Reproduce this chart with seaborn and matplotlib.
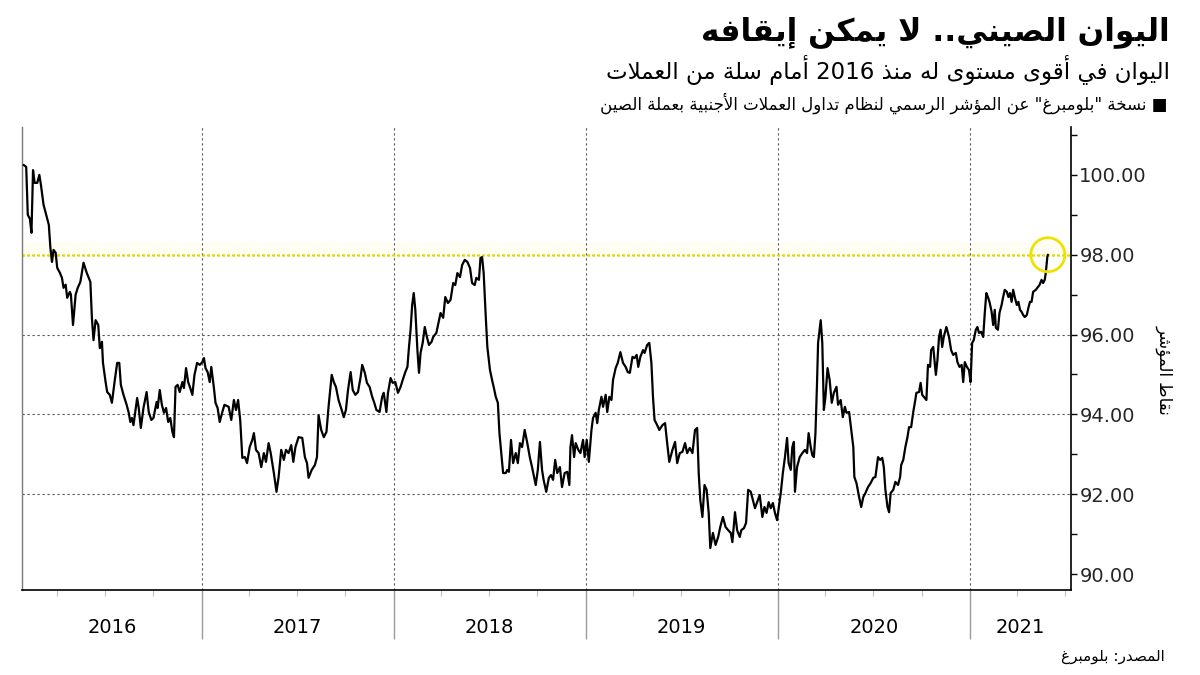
import re
import numpy as np
import pandas as pd
import matplotlib
matplotlib.use("Agg")
import matplotlib.pyplot as plt
import matplotlib.dates as mdates
import matplotlib.transforms as mtransforms
from matplotlib.ticker import FixedLocator, MultipleLocator, FuncFormatter
import seaborn as sns

# ---------------------------------------------------------------- data
title_text = "اليوان الصيني.. لا يمكن إيقافه"
subtitle_text = "اليوان في أقوى مستوى له منذ 2016 أمام سلة من العملات"
legend_text = "■ نسخة \"بلومبرغ\" عن المؤشر الرسمي لنظام تداول العملات الأجنبية بعملة الصين"
ylabel_text = "نقاط المؤشر"
source_text = "المصدر: بلومبرغ"

series_start = "2016-01-01"
# observation dates, as days after series_start
obs_days = [
    27, 32, 35, 39, 42, 45, 48, 53, 57, 60,
    65, 70, 75, 78, 81, 84, 88, 91, 96, 100,
    103, 107, 110, 115, 117, 121, 126, 130, 135, 141,
    147, 151, 154, 157, 160, 164, 169, 172, 176, 178,
    183, 186, 191, 195, 200, 205, 209, 212, 217, 223,
    227, 230, 233, 236, 243, 246, 250, 255, 261, 265,
    270, 274, 280, 282, 286, 290, 294, 298, 302, 306,
    310, 313, 316, 320, 324, 329, 332, 336, 340, 344,
    348, 352, 357, 362, 367, 370, 373, 377, 381, 384,
    389, 392, 396, 400, 405, 409,
    417, 422, 427, 431, 435, 439, 443, 448, 452, 457,
    462, 465, 469, 474, 479, 484, 488, 493, 497, 503,
    508, 512, 517, 522, 526, 531, 536, 540, 544, 550,
    557, 562, 566, 569, 575, 581, 585, 588, 593, 598,
    603, 607, 613, 617, 621, 626, 632, 636, 640, 644,
    649, 653, 658, 663, 668, 671, 676, 680, 685, 690,
    694, 698, 704, 709, 712, 717, 720, 725, 729, 734,
    739, 744, 748, 753, 757, 760, 763, 766, 769, 772,
    776, 779, 782, 786, 790, 794, 798, 803,
    806, 812, 817, 820, 825, 829, 834, 839, 844, 848,
    852, 857, 861, 866, 871, 876, 880, 885, 888, 893,
    896, 899, 902, 906, 909, 914, 918, 921, 925, 929,
    932, 935, 939, 944, 947, 950, 954, 958, 963, 967,
    971, 975, 980, 985, 990, 994, 1001, 1005, 1009, 1013,
    1016, 1021, 1026, 1030, 1034, 1038, 1042, 1047, 1051, 1056,
    1061, 1065, 1067, 1070, 1074, 1077, 1082, 1086, 1091, 1094,
    1098, 1102, 1107, 1110, 1115, 1118, 1121, 1126, 1129, 1134,
    1137, 1141, 1145, 1148, 1153, 1157, 1162, 1167, 1172, 1176,
    1180, 1185, 1189,
    1193, 1196, 1200, 1205, 1208, 1213, 1217, 1221, 1224, 1227,
    1232, 1236, 1242, 1247, 1251, 1255, 1261, 1266, 1270, 1275,
    1280, 1285, 1289, 1294, 1299, 1304, 1308, 1311, 1314, 1318,
    1322, 1326, 1330, 1333, 1338, 1343, 1348, 1352, 1357, 1362,
    1367, 1372, 1375, 1380, 1384, 1389, 1392, 1397, 1401, 1405,
    1410, 1414, 1418, 1422, 1427, 1432, 1436, 1440, 1444, 1448,
    1452, 1456, 1460, 1463, 1467, 1471, 1475, 1479, 1482, 1486,
    1489, 1492, 1494, 1498, 1503, 1508, 1513, 1517, 1520, 1524,
    1527, 1530, 1533, 1536, 1538, 1543, 1546, 1549, 1552, 1556,
    1560, 1564, 1568, 1573, 1576, 1581, 1585, 1589,
    1592, 1597, 1601, 1605, 1607, 1611, 1616, 1620, 1624, 1628,
    1633, 1638, 1643, 1647, 1652, 1656, 1660, 1663, 1666, 1670,
    1673, 1676, 1681, 1685, 1690, 1694, 1696, 1700, 1704, 1708,
    1711, 1715, 1719, 1722, 1725, 1730, 1733, 1736, 1741, 1744,
    1747, 1751, 1753, 1757, 1762, 1765, 1768, 1771, 1774, 1777,
    1782, 1787, 1791, 1795, 1800, 1803, 1807, 1811, 1814, 1817,
    1821, 1825, 1828, 1831, 1834, 1838, 1841, 1844, 1848, 1852,
    1855, 1858, 1861, 1864, 1868, 1871, 1874, 1876, 1880, 1883,
    1887, 1890, 1893, 1897, 1900, 1903, 1906, 1909, 1912, 1916,
    1919, 1922, 1925, 1928, 1931, 1935, 1938, 1941, 1944, 1947,
    1952, 1955, 1959, 1963, 1966, 1969, 1971, 1974, 1975,
]
index_values = [
    100.25, 100.2, 99.0, 98.9, 98.55, 100.12, 99.8, 99.8, 100.0, 99.75,
    99.25, 99.0, 98.75, 98.17, 97.82, 98.12, 98.05, 97.67, 97.55, 97.42,
    97.17, 97.25, 96.92, 97.07, 97.0, 96.24, 97.0, 97.17, 97.32, 97.8,
    97.55, 97.42, 97.32, 96.4, 95.86, 96.36, 96.24, 95.66, 95.82, 95.29,
    94.81, 94.56, 94.49, 94.29, 94.81, 95.29, 95.29, 94.74, 94.49, 94.24,
    94.04, 93.81, 93.91, 93.73, 94.41, 94.16, 93.66, 94.16, 94.56, 94.06,
    93.86, 93.91, 94.31, 94.16, 94.61, 94.24, 94.04, 94.16, 93.81, 93.91,
    93.56, 93.43, 94.69, 94.74, 94.56, 94.81, 94.66, 95.16, 94.81, 94.66,
    94.49, 94.99, 95.29, 95.24, 95.31, 95.41, 95.16, 95.06, 94.81, 95.19,
    94.66, 94.29, 94.16, 93.81, 94.06, 94.24,
    94.19, 93.86, 94.36, 94.11, 94.36, 93.86, 92.91, 92.93, 92.78, 93.18,
    93.36, 93.53, 93.11, 93.03, 92.68, 93.03, 92.81, 93.28, 93.03, 92.53,
    92.06, 92.43, 93.11, 92.86, 93.11, 93.03, 93.23, 92.81, 93.18, 93.43,
    93.41, 92.93, 92.78, 92.41, 92.61, 92.73, 92.93, 93.98, 93.61, 93.43,
    93.56, 94.19, 94.99, 94.81, 94.69, 94.36, 94.11, 93.93, 94.11, 94.61,
    95.06, 94.61, 94.49, 94.56, 94.94, 95.24, 95.04, 94.79, 94.69, 94.44,
    94.29, 94.11, 94.06, 94.44, 94.54, 94.06, 94.54, 94.91, 94.79, 94.81,
    94.54, 94.69, 94.86, 95.06, 95.19, 95.69, 96.12, 96.74, 97.04, 96.62,
    95.61, 95.04, 95.54, 95.79, 96.19, 95.94, 95.74, 95.82,
    95.94, 96.04, 96.36, 96.54, 96.42, 96.94, 96.79, 96.87, 97.29, 97.24,
    97.54, 97.44, 97.74, 97.87, 97.82, 97.67, 97.29, 97.24, 97.42, 97.37,
    97.92, 97.94, 97.54, 96.44, 95.69, 95.11, 94.86, 94.69, 94.44, 94.29,
    93.53, 93.11, 92.53, 92.53, 92.61, 92.56, 93.36, 92.78, 93.03, 92.78,
    93.28, 93.18, 93.61, 93.28, 92.91, 92.68, 92.23, 92.61, 93.31, 92.61,
    92.36, 92.06, 92.41, 92.48, 92.36, 92.86, 92.53, 92.68, 92.18, 92.53,
    92.56, 92.23, 93.18, 93.48, 92.93, 93.28, 93.11, 93.03, 93.36, 92.93,
    93.36, 92.81, 93.61, 93.91, 94.04, 93.78, 94.11, 94.44, 94.19, 94.49,
    94.06, 94.44, 94.36, 94.86, 95.16, 95.29, 95.56, 95.29, 95.19, 95.06,
    95.04, 95.44, 95.41,
    95.49, 95.19, 95.44, 95.61, 95.54, 95.74, 95.79, 95.29, 94.44, 93.86,
    93.73, 93.61, 93.73, 93.78, 93.28, 92.81, 93.11, 93.31, 92.78, 93.03,
    93.06, 93.28, 93.03, 93.16, 93.03, 93.61, 93.66, 92.53, 91.85, 91.43,
    92.23, 92.11, 91.53, 90.65, 91.03, 90.73, 90.93, 91.18, 91.43, 91.18,
    91.1, 91.03, 90.8, 91.55, 91.1, 90.93, 91.1, 91.15, 91.28, 92.11,
    92.06, 91.85, 91.65, 91.8, 91.98, 91.43, 91.68, 91.53, 91.8, 91.65,
    91.78, 91.53, 91.35, 91.65, 92.03, 92.53, 92.93, 93.41, 92.78, 92.61,
    93.18, 93.31, 92.06, 92.68, 92.93, 93.03, 93.11, 93.03, 93.53, 93.18,
    92.98, 92.93, 93.53, 94.79, 95.79, 96.36, 95.79, 94.11, 94.44, 95.16,
    94.86, 94.29, 94.54, 94.69, 94.24, 94.36, 93.93, 94.19,
    94.04, 94.06, 93.61, 93.18, 92.43, 92.28, 91.93, 91.68, 91.93, 92.03,
    92.18, 92.28, 92.41, 92.43, 92.93, 92.86, 92.91, 92.68, 92.11, 91.68,
    91.55, 92.03, 92.11, 92.31, 92.23, 92.43, 92.73, 92.86, 93.18, 93.43,
    93.68, 93.68, 94.06, 94.29, 94.54, 94.56, 94.79, 94.49, 94.41, 94.36,
    95.24, 95.19, 95.61, 95.69, 94.99, 95.36, 95.94, 96.12, 95.69, 95.94,
    96.19, 95.94, 95.61, 95.49, 95.54, 95.31, 95.19, 95.24, 94.81, 95.31,
    95.19, 95.11, 94.81, 95.79, 95.86, 96.12, 96.19, 96.04, 96.07, 95.94,
    96.54, 97.04, 96.94, 96.82, 96.57, 96.24, 96.62, 96.17, 96.12, 96.54,
    96.74, 96.94, 97.12, 97.07, 96.94, 97.04, 96.82, 97.12, 96.94, 96.74,
    96.82, 96.62, 96.57, 96.49, 96.44, 96.49, 96.67, 96.82, 96.82, 97.07,
    97.12, 97.17, 97.24, 97.37, 97.29, 97.37, 97.54, 97.95, 98.0,
]
assert len(obs_days) == len(index_values), (len(obs_days), len(index_values))

x_range = ("2016-01-25", "2021-07-12")
y_range = (89.6, 101.2)
y_ticks = [90, 92, 94, 96, 98, 100]
grid_levels = [92, 94, 96, 98]
highlight_level = 98
year_labels = [2016, 2017, 2018, 2019, 2020, 2021]


# ------------------------------------------------ Arabic shaping helpers
DUAL = {0x0626: 0xFE89, 0x0628: 0xFE8F, 0x062A: 0xFE95, 0x062B: 0xFE99,
        0x062C: 0xFE9D, 0x062D: 0xFEA1, 0x062E: 0xFEA5, 0x0633: 0xFEB1,
        0x0634: 0xFEB5, 0x0635: 0xFEB9, 0x0636: 0xFEBD, 0x0637: 0xFEC1,
        0x0638: 0xFEC5, 0x0639: 0xFEC9, 0x063A: 0xFECD, 0x0641: 0xFED1,
        0x0642: 0xFED5, 0x0643: 0xFED9, 0x0644: 0xFEDD, 0x0645: 0xFEE1,
        0x0646: 0xFEE5, 0x0647: 0xFEE9, 0x064A: 0xFEF1}
RIGHT = {0x0622: 0xFE81, 0x0623: 0xFE83, 0x0624: 0xFE85, 0x0625: 0xFE87,
         0x0627: 0xFE8D, 0x0629: 0xFE93, 0x062F: 0xFEA9, 0x0630: 0xFEAB,
         0x0631: 0xFEAD, 0x0632: 0xFEAF, 0x0648: 0xFEED, 0x0649: 0xFEEF}
LAM_ALEF = {0x0622: 0xFEF5, 0x0623: 0xFEF7, 0x0625: 0xFEF9, 0x0627: 0xFEFB}


def _jtype(tok):
    kind, c = tok
    if kind == "LA":
        return "R"
    o = ord(c)
    if o in DUAL:
        return "D"
    if o in RIGHT:
        return "R"
    return "U"


def shape(text):
    toks = []
    i = 0
    while i < len(text):
        c = text[i]
        if ord(c) == 0x0644 and i + 1 < len(text) and ord(text[i + 1]) in LAM_ALEF:
            toks.append(("LA", text[i + 1]))
            i += 2
        else:
            toks.append(("C", c))
            i += 1
    out = []
    for k, tok in enumerate(toks):
        t = _jtype(tok)
        prev = _jtype(toks[k - 1]) if k > 0 else "U"
        nxt = _jtype(toks[k + 1]) if k + 1 < len(toks) else "U"
        jp = prev == "D" and t in "DR"
        jn = t == "D" and nxt in "DR"
        if tok[0] == "LA":
            out.append(chr(LAM_ALEF[ord(tok[1])] + (1 if jp else 0)))
        elif t == "U":
            out.append(tok[1])
        elif t == "R":
            out.append(chr(RIGHT[ord(tok[1])] + (1 if jp else 0)))
        else:
            idx = {(False, False): 0, (True, False): 1,
                   (False, True): 2, (True, True): 3}[(jp, jn)]
            out.append(chr(DUAL[ord(tok[1])] + idx))
    return "".join(out)


def rtl(text):
    s = shape(text)
    runs = re.findall(r"[0-9A-Za-z]+(?:[.,][0-9]+)*|[^0-9A-Za-z]+", s)
    out = []
    for r in reversed(runs):
        if re.match(r"[0-9A-Za-z]", r):
            out.append(r)
        else:
            out.append(r[::-1])
    return "".join(out)


# ---------------------------------------------------------------- figure
sns.set_theme(style="white")
plt.rcParams["font.family"] = ["DejaVu Sans"]

df = pd.DataFrame({
    "date": pd.Timestamp(series_start) + pd.to_timedelta(obs_days, unit="D"),
    "value": index_values,
})

fig = plt.figure(figsize=(12, 6.75), dpi=100)
ax = fig.add_axes([22 / 1200, 85 / 675, 1049 / 1200, 463 / 675])

x0, x1 = pd.Timestamp(x_range[0]), pd.Timestamp(x_range[1])

# grid
for lvl in grid_levels:
    ax.axhline(lvl, color="#555555", lw=0.8, ls=(0, (2, 2.5)), zorder=1)
for yr in year_labels[1:]:
    ax.axvline(pd.Timestamp(f"{yr}-01-01"), color="#555555", lw=0.8,
               ls=(0, (2, 2.5)), zorder=1)

# highlight level
ax.axhspan(highlight_level, highlight_level + 0.3, color="#fffef2", lw=0, zorder=0)
ax.axhline(highlight_level, color="#e8dc00", lw=1.8, ls=(0, (1, 1)), zorder=2)

sns.lineplot(data=df, x="date", y="value", ax=ax, color="black", lw=1.6,
             zorder=3, legend=False)

last = df.iloc[-1]
ax.scatter([last["date"]], [last["value"]], s=600, facecolors="none",
           edgecolors="#efe200", linewidths=2, zorder=4)

ax.set_xlim(x0, x1)
ax.set_ylim(*y_range)

# y axis on right
ax.yaxis.tick_right()
ax.yaxis.set_major_locator(FixedLocator(y_ticks))
ax.yaxis.set_minor_locator(MultipleLocator(1))
ax.yaxis.set_major_formatter(FuncFormatter(lambda v, p: f"{v:.2f}"))
ax.tick_params(axis="y", which="both", direction="out", length=4, width=1,
               color="black", right=True, left=False, labelright=True,
               labelleft=False, labelsize=14, pad=2)
ax.set_ylabel("")

# x axis
ax.xaxis.set_major_locator(mdates.YearLocator())
ax.xaxis.set_minor_locator(mdates.MonthLocator(bymonth=[4, 7, 10]))
ax.tick_params(axis="x", which="major", direction="out", length=35, width=1,
               color="#9a9a9a", labelbottom=False, bottom=True)
ax.tick_params(axis="x", which="minor", direction="out", length=4, width=0.8,
               color="#bdbdbd", bottom=True)
ax.set_xlabel("")

trans = mtransforms.blended_transform_factory(ax.transData, ax.transAxes)
for yr in year_labels:
    lo = max(pd.Timestamp(f"{yr}-01-01"), x0)
    hi = min(pd.Timestamp(f"{yr + 1}-01-01"), x1)
    ax.text(lo + (hi - lo) / 2, -0.082, str(yr), transform=trans,
            ha="center", va="center", fontsize=14, color="black")

ax.spines["top"].set_visible(False)
ax.spines["left"].set_color("#7a7a7a")
ax.spines["left"].set_linewidth(1)
ax.spines["bottom"].set_color("black")
ax.spines["bottom"].set_linewidth(1.2)
ax.spines["right"].set_color("black")
ax.spines["right"].set_linewidth(1.2)

# texts
fig.text(1170 / 1200, 1 - 32 / 675, rtl(title_text), ha="right", va="center",
         fontsize=22.5, fontweight="bold", color="black")
fig.text(1170 / 1200, 1 - 70 / 675, rtl(subtitle_text), ha="right",
         va="center", fontsize=16.5, color="black")
fig.text(1168 / 1200, 1 - 103 / 675, rtl(legend_text), ha="right",
         va="center", fontsize=12, color="black")
fig.text(1165 / 1200, 1 - 370 / 675, rtl(ylabel_text), ha="center",
         va="center", rotation=270, fontsize=12, color="black")
fig.text(1165 / 1200, 1 - 657 / 675, rtl(source_text), ha="right",
         va="center", fontsize=11, color="black")

fig.savefig("out.png", dpi=100)
